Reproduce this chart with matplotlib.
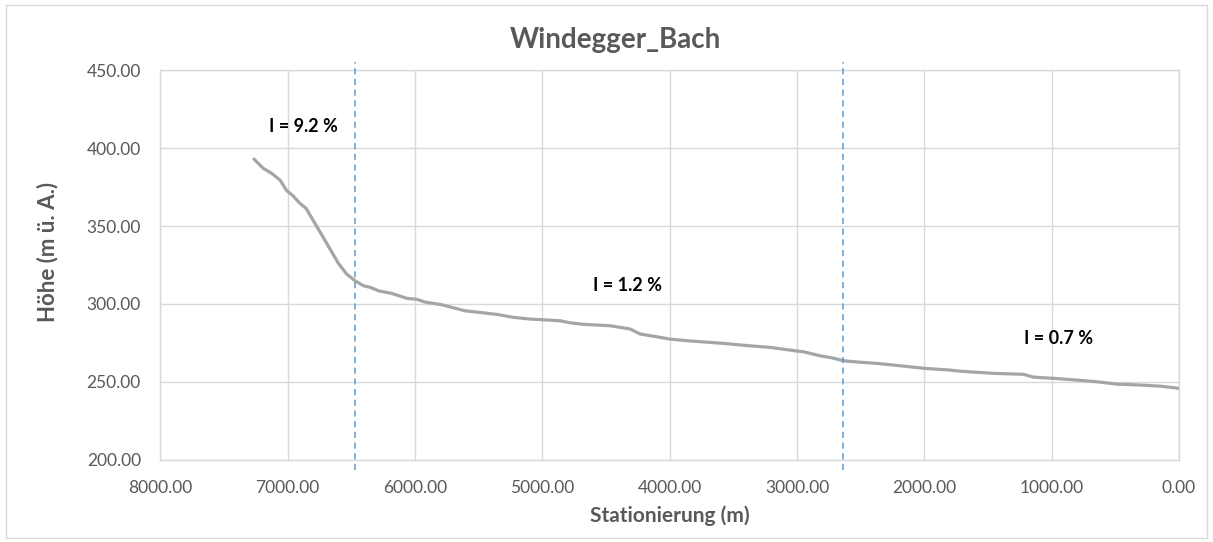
import matplotlib
matplotlib.use("Agg")
import matplotlib.pyplot as plt
from matplotlib.patches import Rectangle

# Longitudinal profile: station (m) and elevation (m ü. A.)
station = [7265, 7192, 7126, 7060, 7008, 6956, 6909, 6856, 6786, 6694, 6602,
           6537, 6471, 6406, 6353, 6288, 6249, 6183, 6065, 5987, 5921, 5790,
           5712, 5607, 5463, 5358, 5228, 5097, 4965, 4861, 4782, 4678, 4468,
           4311, 4232, 4101, 3997, 3866, 3600, 3368, 3211, 3015, 2950, 2819,
           2727, 2635, 2557, 2373, 2190, 1994, 1797, 1719, 1457, 1221, 1143,
           986, 802, 645, 488, 305, 148, 0]
elevation = [393.1, 387.1, 383.9, 379.6, 372.8, 369.3, 365.0, 361.4, 351.8,
             339.0, 326.1, 319.2, 314.9, 311.7, 310.7, 308.5, 307.8, 306.8,
             303.6, 303.0, 301.2, 299.5, 297.8, 295.6, 294.3, 293.3, 291.4,
             290.3, 289.7, 289.2, 287.9, 286.9, 286.0, 283.9, 280.7, 278.9,
             277.4, 276.4, 274.8, 273.1, 272.1, 269.9, 269.3, 266.7, 265.4,
             263.5, 262.9, 261.8, 260.3, 258.6, 257.5, 256.8, 255.4, 254.8,
             253.0, 252.2, 251.1, 250.0, 248.5, 247.9, 247.2, 245.8]

# Section boundaries (m) and gradient labels
boundaries = [6471, 2638]
slope_labels = ["I = 9.2 %", "I = 1.2 %", "I = 0.7 %"]
slope_label_x = [6880, 4330, 945]
slope_label_y = [413.7, 312.1, 278.1]

x_ticks = [8000, 7000, 6000, 5000, 4000, 3000, 2000, 1000, 0]
y_ticks = [200, 250, 300, 350, 400, 450]

text_gray = "#595959"
grid_gray = "#d9d9d9"
plt.rcParams["font.family"] = ["Lato", "DejaVu Sans"]

W, H = 1213, 542
fig = plt.figure(figsize=(W / 100, H / 100), dpi=100)
fig.patches.append(Rectangle((0.005, 0.008), 0.99, 0.982, transform=fig.transFigure,
                             fill=False, edgecolor=grid_gray, linewidth=1))
ax = fig.add_axes([0.1322, 0.152, 0.8398, 0.718])

ax.plot(station, elevation, color="#a5a5a5", linewidth=2.3, solid_capstyle="round",
        zorder=3)

for b in boundaries:
    ax.plot([b, b], [193.3, 455.5], color="#5b9bd5", linewidth=1.1,
            dashes=(4, 3), clip_on=False, zorder=4)

for lbl, lx, ly in zip(slope_labels, slope_label_x, slope_label_y):
    ax.text(lx, ly, lbl, ha="center", va="center", fontsize=13,
            fontweight="bold", color="black")

ax.set_xlim(8000, 0)
ax.set_ylim(200, 450)
ax.set_xticks(x_ticks)
ax.set_yticks(y_ticks)
ax.set_xticklabels([f"{v:.2f}" for v in x_ticks])
ax.set_yticklabels([f"{v:.2f}" for v in y_ticks])
ax.tick_params(length=0, labelsize=12.5, labelcolor=text_gray)
ax.tick_params(axis="x", pad=15)
ax.tick_params(axis="y", pad=14)
ax.grid(True, color=grid_gray, linewidth=1)
ax.set_axisbelow(True)
for s in ax.spines.values():
    s.set_color(grid_gray)
    s.set_linewidth(1)

fig.text(670 / W, 1 - 516 / H, "Stationierung (m)", ha="center", va="center",
         fontsize=15, fontweight="bold", color=text_gray)
fig.text(48 / W, 1 - 251.5 / H, "Höhe (m ü. A.)", ha="center", va="center",
         rotation=90, fontsize=16, fontweight="bold", color=text_gray)
fig.text(615 / W, 1 - 40 / H, "Windegger_Bach", ha="center", va="center",
         fontsize=20, fontweight="bold", color=text_gray)

fig.savefig("out.png", dpi=100)
